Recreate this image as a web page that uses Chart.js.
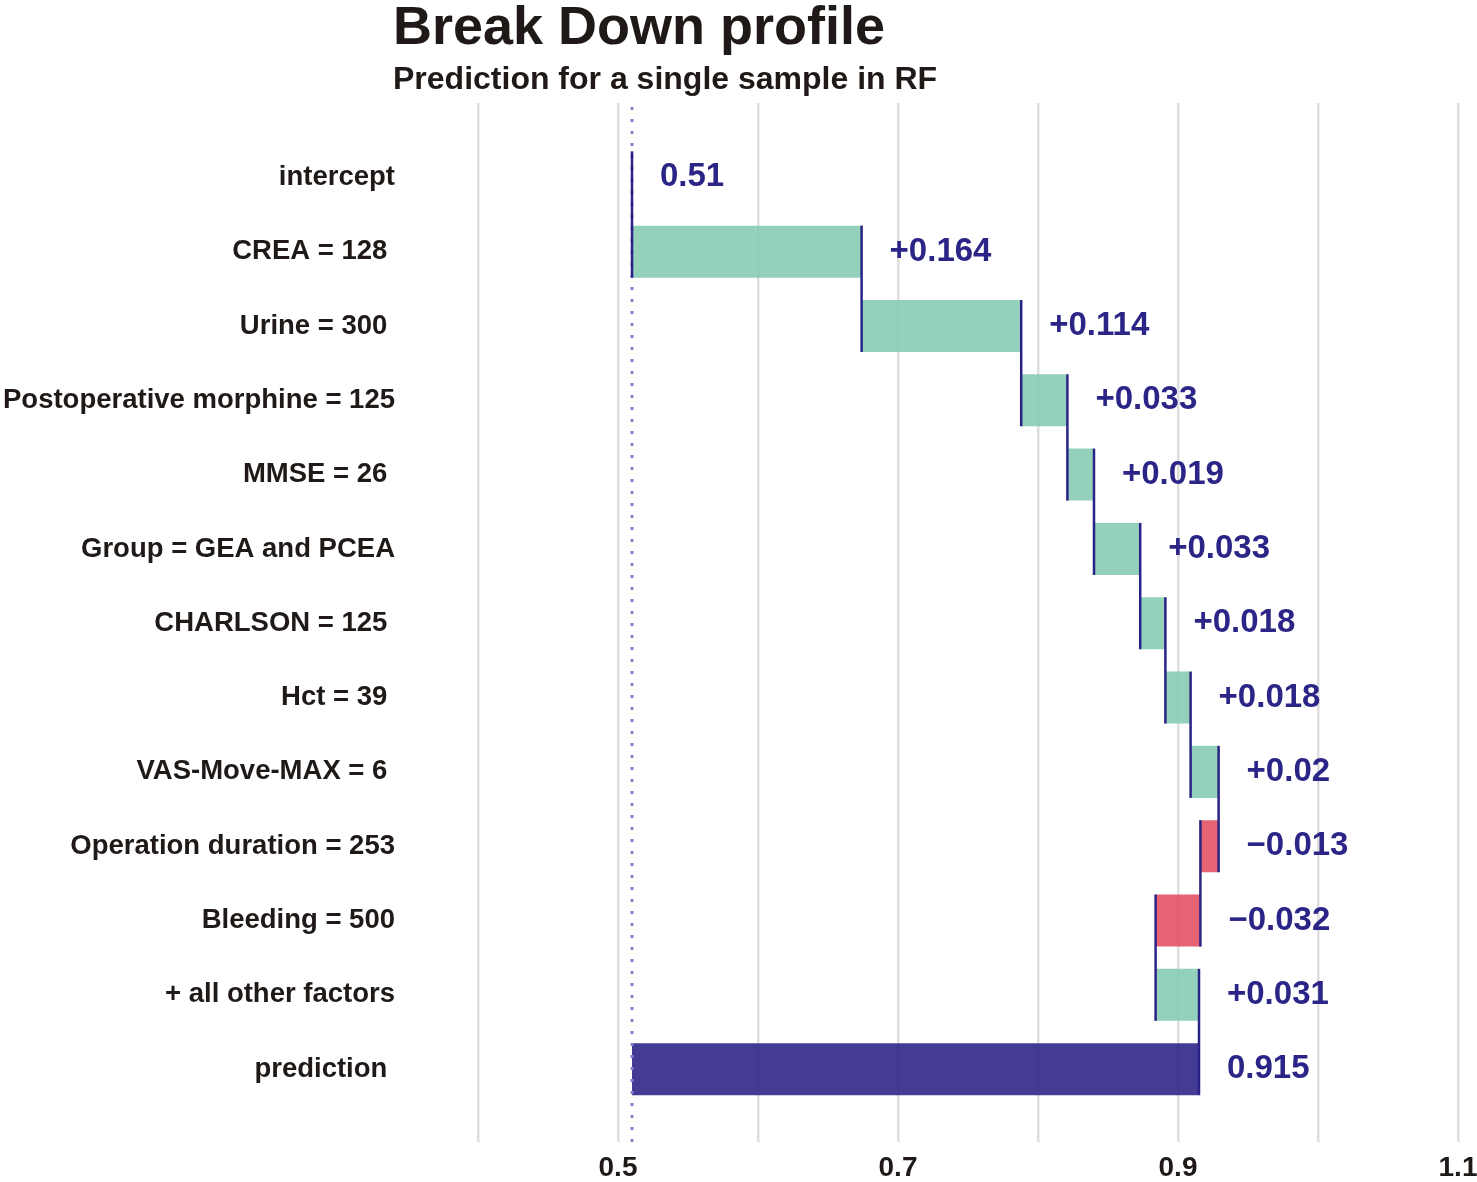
<!DOCTYPE html>
<html lang="en">
<head>
<meta charset="utf-8">
<title>Break Down profile</title>
<script src="https://cdn.jsdelivr.net/npm/chart.js@4.4.1/dist/chart.umd.min.js"></script>
<style>
    html, body { margin: 0; padding: 0; background: #fff; }
    #contenedor { position: relative; width: 1477px; height: 1182px; }
</style>
</head>
<body>
<div id="contenedor"><canvas id="grafico-breakdown"></canvas></div>
<script>
// Datos
const titulo = 'Break Down profile';
const subtitulo = 'Prediction for a single sample in RF';
const variables = [
    'intercept', 'CREA = 128 ', 'Urine = 300 ', 'Postoperative morphine = 125', 'MMSE = 26 ',
    'Group = GEA and PCEA', 'CHARLSON = 125 ', 'Hct = 39 ', 'VAS-Move-MAX = 6 ',
    'Operation duration = 253', 'Bleeding = 500', '+ all other factors', 'prediction '
];
const intercepto = 0.51;
const contribuciones = [0.164, 0.114, 0.033, 0.019, 0.033, 0.018, 0.018, 0.02, -0.013, -0.032, 0.031];
const prediccion = 0.915;
const ticksEje = [0.5, 0.7, 0.9, 1.1];

// Colores
const colorPositivo = 'rgba(136, 204, 180, 0.9)';
const colorNegativo = 'rgba(226, 82, 100, 0.9)';
const colorPrediccion = 'rgba(48, 38, 138, 0.9)';
const colorLinea = '#2a2386';
const colorTexto = '#1f1a17';
const fuente = "'Liberation Sans', Arial, sans-serif";

// Tramos [inicio, fin] de cada barra
const tramos = [[intercepto, intercepto]];
let acumulado = intercepto;
contribuciones.forEach(c => {
    const fin = +(acumulado + c).toFixed(3);
    tramos.push([acumulado, fin]);
    acumulado = fin;
});
tramos.push([intercepto, prediccion]);

const etiquetasValor = [
    String(intercepto),
    ...contribuciones.map(c => (c > 0 ? '+' : '\u2212') + Math.abs(c)),
    String(prediccion)
];
const coloresBarras = tramos.map((t, i) => {
    if (i === 0) return 'rgba(0,0,0,0)';
    if (i === tramos.length - 1) return colorPrediccion;
    return t[1] >= t[0] ? colorPositivo : colorNegativo;
});

// Título, línea punteada, conectores y etiquetas de valor
const dibujoExtra = {
    id: 'dibujoExtra',
    afterDatasetsDraw(chart) {
        const ctx = chart.ctx;
        const area = chart.chartArea;
        const ejeX = chart.scales.x;
        const barras = chart.getDatasetMeta(0).data;

        ctx.save();
        // línea punteada en el intercepto
        const xi = ejeX.getPixelForValue(intercepto);
        ctx.strokeStyle = '#8581cf';
        ctx.lineWidth = 3;
        ctx.setLineDash([3, 9]);
        ctx.beginPath();
        ctx.moveTo(xi, area.top + 4);
        ctx.lineTo(xi, area.bottom);
        ctx.stroke();
        ctx.setLineDash([]);

        // conectores entre barras
        ctx.strokeStyle = colorLinea;
        ctx.lineWidth = 2.5;
        for (let i = 0; i < barras.length - 1; i++) {
            const x = ejeX.getPixelForValue(tramos[i][1]);
            const arriba = barras[i].y - barras[i].height / 2;
            const abajo = barras[i + 1].y + barras[i + 1].height / 2;
            ctx.beginPath();
            ctx.moveTo(x, arriba);
            ctx.lineTo(x, abajo);
            ctx.stroke();
        }

        // etiquetas de valor
        ctx.fillStyle = '#2b2587';
        ctx.font = `bold 33px ${fuente}`;
        ctx.textAlign = 'left';
        ctx.textBaseline = 'middle';
        barras.forEach((barra, i) => {
            const x = ejeX.getPixelForValue(Math.max(...tramos[i])) + 28;
            ctx.fillText(etiquetasValor[i], x, barra.y);
        });
        ctx.restore();
    },
    afterDraw(chart) {
        const ctx = chart.ctx;
        const x = chart.chartArea.left - 85;
        ctx.save();
        ctx.fillStyle = colorTexto;
        ctx.textAlign = 'left';
        ctx.textBaseline = 'alphabetic';
        ctx.font = `bold 54px ${fuente}`;
        ctx.fillText(titulo, x, 44);
        ctx.font = `bold 32px ${fuente}`;
        ctx.fillText(subtitulo, x, 89);
        ctx.restore();
    }
};

function inicializarGrafico() {
    const ctx = document.getElementById('grafico-breakdown');
    Chart.defaults.font.family = fuente;

    new Chart(ctx, {
        type: 'bar',
        data: {
            datasets: [{
                data: tramos.map((t, i) => ({ x: t, y: i })),
                backgroundColor: coloresBarras,
                borderWidth: 0,
                barPercentage: 0.875,
                categoryPercentage: 0.8
            }]
        },
        options: {
            indexAxis: 'y',
            responsive: true,
            maintainAspectRatio: false,
            animation: false,
            layout: { padding: { top: 103, right: 19, left: 0, bottom: 0 } },
            plugins: {
                legend: { display: false },
                tooltip: { enabled: false }
            },
            scales: {
                x: {
                    type: 'linear',
                    min: 0.4,
                    max: 1.1,
                    grid: { color: '#dedede', lineWidth: 2.5, drawTicks: false },
                    border: { display: false },
                    afterFit: eje => {
                        eje.height = 40;
                        eje.paddingLeft = 0;
                        eje.paddingRight = 0;
                    },
                    ticks: {
                        stepSize: 0.1,
                        padding: 9,
                        maxRotation: 0,
                        autoSkip: false,
                        color: colorTexto,
                        font: { size: 28, weight: 'bold' },
                        callback: v => {
                            const t = ticksEje.find(t => Math.abs(t - v) < 1e-6);
                            return t === undefined ? '' : String(t);
                        }
                    }
                },
                y: {
                    type: 'linear',
                    reverse: true,
                    offset: false,
                    min: -1,
                    max: 12.98,
                    grid: { display: false, drawTicks: false, offset: false },
                    border: { display: false },
                    afterBuildTicks: eje => { eje.ticks = variables.map((_, i) => ({ value: i })); },
                    afterFit: eje => {
                        eje.width = 478;
                        eje.paddingTop = 0;
                        eje.paddingBottom = 0;
                    },
                    ticks: {
                        autoSkip: false,
                        padding: 83,
                        color: colorTexto,
                        font: { size: 27.5, weight: 'bold' },
                        callback: v => variables[v]
                    }
                }
            }
        },
        plugins: [dibujoExtra]
    });
}

document.addEventListener('DOMContentLoaded', inicializarGrafico);
</script>
</body>
</html>
